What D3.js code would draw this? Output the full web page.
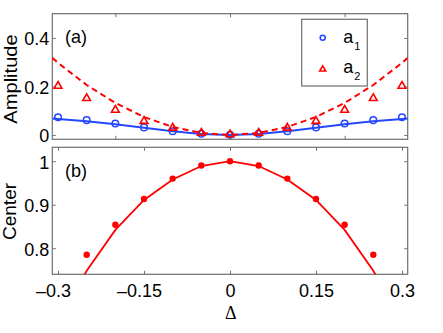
<!DOCTYPE html>
<html>
<head>
<meta charset="utf-8">
<script src="https://cdn.jsdelivr.net/npm/d3@7"></script>
<style>
body { margin: 0; background: #fff; }
svg { display: block; font-family: "Liberation Sans", Arial, sans-serif; }
</style>
</head>
<body>
<svg id="fig" width="443" height="333"></svg>
<script>
// values
const deltaPts = [-0.3, -0.25, -0.2, -0.15, -0.1, -0.05, 0, 0.05, 0.1, 0.15, 0.2, 0.25, 0.3];
const a1 = [0.073, 0.061, 0.047, 0.031, 0.015, 0.005, 0.001, 0.005, 0.015, 0.031, 0.047, 0.061, 0.073];
const a2 = [0.202, 0.151, 0.103, 0.057, 0.029, 0.008, 0.002, 0.008, 0.029, 0.057, 0.103, 0.151, 0.202];

const deltaFit = [-0.31, -0.3, -0.25, -0.2, -0.15, -0.1, -0.05, 0, 0.05, 0.1, 0.15, 0.2, 0.25, 0.3, 0.31];
const a1Fit = [0.068, 0.066, 0.056, 0.044, 0.03, 0.015, 0.004, 0, 0.004, 0.015, 0.03, 0.044, 0.056, 0.066, 0.068];
const a2Fit = [0.318, 0.297, 0.206, 0.132, 0.074, 0.033, 0.008, 0, 0.008, 0.033, 0.074, 0.132, 0.206, 0.297, 0.318];

const deltaB = [-0.25, -0.2, -0.15, -0.1, -0.05, 0, 0.05, 0.1, 0.15, 0.2, 0.25];
const center = [0.785, 0.854, 0.913, 0.96, 0.99, 1.0, 0.99, 0.96, 0.913, 0.854, 0.785];
const deltaBFit = [-0.3, -0.25, -0.2, -0.15, -0.1, -0.05, 0, 0.05, 0.1, 0.15, 0.2, 0.25, 0.3];
const centerFit = [0.633, 0.748, 0.842, 0.911, 0.958, 0.989, 1.0, 0.989, 0.958, 0.911, 0.842, 0.748, 0.633];

const xTicksA = [-0.2, 0, 0.2];
const xTicksB = [-0.3, -0.15, 0, 0.15, 0.3];
const yTicksA = [0, 0.2, 0.4];
const yTicksB = [0.8, 0.9, 1];

const FRAME = "#6f6f6f";
const BLUE = "#2447ff";
const RED = "#ff0000";
const FS = 18;     // font size
const SY = 1.06;   // text looks a bit taller than wide in the original

const svg = d3.select("#fig");

const x = d3.scaleLinear().domain([-0.31, 0.31]).range([52.3, 407.7]);
const yA = d3.scaleLinear().domain([-0.018, 0.5]).range([139.3, 13.7]);
const yB = d3.scaleLinear().domain([0.74, 1.032]).range([274.3, 147.3]);

function xFmt(d) {
  return (d < 0 ? "\u2013" : "") + Math.abs(d);
}

function panel(id, y, xt, yt, showX) {
  const [x0, x1] = x.range();
  const [yb, yt0] = y.range();
  const g = svg.append("g");

  svg.append("clipPath").attr("id", id)
    .append("rect").attr("x", x0).attr("y", yt0).attr("width", x1 - x0).attr("height", yb - yt0);

  const bottom = g.append("g").attr("transform", `translate(0,${yb})`)
    .call(d3.axisBottom(x).tickValues(xt).tickSize(-3.5).tickFormat(xFmt));
  g.append("g").attr("transform", `translate(0,${yt0})`)
    .call(d3.axisTop(x).tickValues(xt).tickSize(-3.5)).selectAll("text").remove();
  const left = g.append("g").attr("transform", `translate(${x0},0)`)
    .call(d3.axisLeft(y).tickValues(yt).tickSize(-3.5).tickFormat(d3.format("")));
  g.append("g").attr("transform", `translate(${x1},0)`)
    .call(d3.axisRight(y).tickValues(yt).tickSize(-3.5)).selectAll("text").remove();

  g.selectAll(".domain").remove();
  g.selectAll(".tick line").attr("stroke", FRAME).attr("stroke-width", 1);
  g.selectAll("g").attr("font-family", null).attr("font-size", null);

  if (showX) {
    bottom.selectAll("text")
      .attr("y", null).attr("dy", null).attr("fill", "#000").attr("font-size", FS)
      .attr("transform", d => `translate(${d < 0 ? -5 : 0},22.4) scale(1,${SY})`);
  } else {
    bottom.selectAll("text").remove();
  }
  left.selectAll("text")
    .attr("x", null).attr("dy", null).attr("fill", "#000").attr("font-size", FS)
    .attr("transform", `translate(-3,7) scale(1,${SY})`);

  g.append("rect")
    .attr("x", x0).attr("y", yt0).attr("width", x1 - x0).attr("height", yb - yt0)
    .attr("fill", "none").attr("stroke", FRAME).attr("stroke-width", 1.2);

  return svg.append("g").attr("clip-path", `url(#${id})`);
}

function label(txt, px, py, size, rot) {
  svg.append("text")
    .attr("transform", `translate(${px},${py})` + (rot ? " rotate(-90)" : "") + (rot ? ` scale(${SY},1)` : ` scale(1,${SY})`))
    .attr("text-anchor", rot ? "middle" : "start")
    .attr("font-size", size)
    .attr("fill", "#000")
    .text(txt);
}

// ---------- panel (a) ----------
const pa = panel("clipA", yA, xTicksA, yTicksA, false);

const lineA = d3.line().x(d => x(d[0])).y(d => yA(d[1]));

pa.append("path")
  .datum(d3.zip(deltaFit, a1Fit))
  .attr("d", lineA)
  .attr("fill", "none").attr("stroke", BLUE).attr("stroke-width", 2);

pa.selectAll("circle.a1")
  .data(d3.zip(deltaPts, a1))
  .join("circle").attr("class", "a1")
  .attr("cx", d => x(d[0])).attr("cy", d => yA(d[1])).attr("r", 3.3)
  .attr("fill", "none").attr("stroke", BLUE).attr("stroke-width", 1.5);

pa.append("path")
  .datum(d3.zip(deltaFit, a2Fit))
  .attr("d", lineA)
  .attr("fill", "none").attr("stroke", RED).attr("stroke-width", 2)
  .attr("stroke-dasharray", "6,4");

const tri = d3.symbol().type(d3.symbolTriangle).size(26);
pa.selectAll("path.a2")
  .data(d3.zip(deltaPts, a2))
  .join("path").attr("class", "a2")
  .attr("d", tri)
  .attr("transform", d => `translate(${x(d[0])},${yA(d[1])})`)
  .attr("fill", "none").attr("stroke", RED).attr("stroke-width", 1.6);

// legend
svg.append("rect")
  .attr("x", 301.7).attr("y", 19.3).attr("width", 65.6).attr("height", 66.7)
  .attr("fill", "#fff").attr("stroke", FRAME).attr("stroke-width", 1.2);
svg.append("circle").attr("cx", 322.7).attr("cy", 37.7).attr("r", 2.5)
  .attr("fill", "none").attr("stroke", BLUE).attr("stroke-width", 1.5);
svg.append("path").attr("d", d3.symbol().type(d3.symbolTriangle).size(16))
  .attr("transform", "translate(322.7,69.3)")
  .attr("fill", "none").attr("stroke", RED).attr("stroke-width", 1.6);

const legendItems = [["a", "1", 43.3], ["a", "2", 73.3]];
legendItems.forEach(([base, sub, by]) => {
  const t = svg.append("text")
    .attr("transform", `translate(343.3,${by}) scale(1,${SY})`)
    .attr("font-size", FS).attr("fill", "#000");
  t.append("tspan").text(base);
  t.append("tspan").attr("font-size", 11).attr("dx", 1).attr("dy", 6.5).text(sub);
});

label("(a)", 65, 42.7, FS, false);
label("Amplitude", 16.5, 79, 19, true);

// ---------- panel (b) ----------
const pb = panel("clipB", yB, xTicksB, yTicksB, true);

pb.append("path")
  .datum(d3.zip(deltaBFit, centerFit))
  .attr("d", d3.line().x(d => x(d[0])).y(d => yB(d[1])))
  .attr("fill", "none").attr("stroke", RED).attr("stroke-width", 1.8);

pb.selectAll("circle.c")
  .data(d3.zip(deltaB, center))
  .join("circle").attr("class", "c")
  .attr("cx", d => x(d[0])).attr("cy", d => yB(d[1])).attr("r", 3.2)
  .attr("fill", RED);

label("(b)", 65, 176.7, FS, false);
label("Center", 15.5, 211.5, FS, true);

// x label
svg.append("text")
  .attr("transform", `translate(230.7,319.3) scale(1,${SY})`)
  .attr("text-anchor", "middle")
  .attr("font-family", "\"Liberation Serif\", serif")
  .attr("font-size", 18).attr("fill", "#000")
  .text("\u0394");
</script>
</body>
</html>
